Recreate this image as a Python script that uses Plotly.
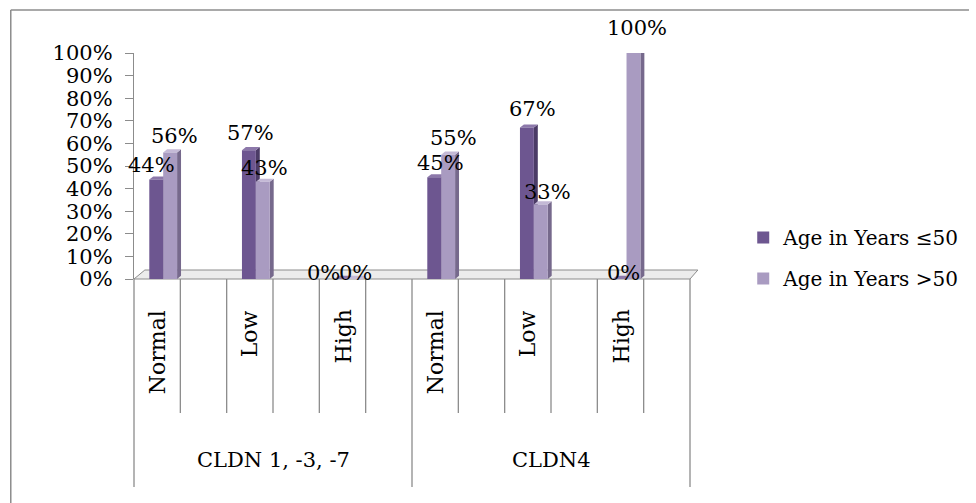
import plotly.graph_objects as go

# ---- data -------------------------------------------------------------
levels = ["Normal", "Low", "High", "Normal", "Low", "High"]
groups = ["CLDN 1, -3, -7", "CLDN4"]
series_names = ["Age in Years \u226450", "Age in Years >50"]
age_le_50 = [44, 57, 0, 45, 67, 0]
age_gt_50 = [56, 43, 0, 55, 33, 100]
y_ticks = [0, 10, 20, 30, 40, 50, 60, 70, 80, 90, 100]

# ---- styling ----------------------------------------------------------
FONT = "DejaVu Serif"
DARK = "#6d5690"
LIGHT = "#a99bc1"
DARK_SIDE = "#4b3b66"
LIGHT_SIDE = "#76698c"
DARK_TOP = "#8c78aa"
LIGHT_TOP = "#c4b9d6"
GRID = "#8c8c8c"

# horizontal nudges (px) of the value labels, per level
label_dx_dark = [-5, 2, -18, 6, 6, 4]
label_dx_light = [4, 2, 0, 5, 7, 4]

W, H = 976, 503
L, R, T, B = 134, 698, 53, 279          # plot area in pixels
n_slots = 2 * len(levels)               # every level is followed by an empty slot
x_pos = [2 * i for i in range(len(levels))]
shift = 0.13                            # bars sit slightly right of the slot centre
bar_w = 0.3


def px(xp):
    return (xp - L) / (R - L)


def py(yp):
    return (B - yp) / (B - T)


fig = go.Figure()
for name, vals, col in [(series_names[0], age_le_50, DARK),
                        (series_names[1], age_gt_50, LIGHT)]:
    fig.add_trace(go.Bar(
        x=x_pos, y=vals, name=name, marker=dict(color=col, line=dict(width=0)),
        legendgroup=name, hoverinfo="skip",
    ))

shapes = []
# floor slab
shapes.append(dict(type="path", xref="paper", yref="paper", layer="below",
                   path=f"M {px(L)},{py(B)} L {px(L+11)},{py(B-9)} L {px(R+8)},{py(B-9)} "
                        f"L {px(R)},{py(B)} Z",
                   fillcolor="#ececec", line=dict(color=GRID, width=1)))

# pseudo-3D side and top faces of every bar
dx, dy = 0.085, 1.4
for vals, off, side, top in [(age_le_50, -bar_w, DARK_SIDE, DARK_TOP),
                             (age_gt_50, 0.0, LIGHT_SIDE, LIGHT_TOP)]:
    for xc, v in zip(x_pos, vals):
        xl = xc + off
        xr = xl + bar_w
        shapes.append(dict(type="path", xref="x", yref="y", layer="below",
                           path=f"M {xr},{0} L {xr+dx},{dy} L {xr+dx},{v+dy} L {xr},{v} Z",
                           fillcolor=side, line=dict(width=0)))
        shapes.append(dict(type="path", xref="x", yref="y", layer="below",
                           path=f"M {xl},{v} L {xl+dx},{v+dy} L {xr+dx},{v+dy} L {xr},{v} Z",
                           fillcolor=top, line=dict(width=0)))

# category table below the axis
tier_end, table_end = 413, 487
for k in range(n_slots + 1):
    bottom = table_end if k % 6 == 0 else tier_end
    xk = k / n_slots
    shapes.append(dict(type="line", xref="paper", yref="paper",
                       x0=xk, x1=xk, y0=py(B), y1=py(bottom),
                       line=dict(color=GRID, width=1.3)))

# outer frame (left and top edges)
shapes.append(dict(type="line", xref="paper", yref="paper",
                   x0=px(9), x1=px(9), y0=py(10), y1=py(H + 5),
                   line=dict(color=GRID, width=1.5)))
shapes.append(dict(type="line", xref="paper", yref="paper",
                   x0=px(9), x1=px(W + 5), y0=py(10), y1=py(10),
                   line=dict(color=GRID, width=1.5)))

annotations = []
# level labels (rotated) and group labels
for i, lab in enumerate(levels):
    annotations.append(dict(xref="paper", yref="paper",
                            x=(2 * i + 0.5) / n_slots, y=py(308),
                            text=lab, textangle=-90, showarrow=False,
                            xanchor="center", yanchor="top",
                            font=dict(family=FONT, size=22, color="black")))
for g, lab in enumerate(groups):
    annotations.append(dict(xref="paper", yref="paper",
                            x=(6 * g + 3) / n_slots, y=py(460),
                            text=lab, showarrow=False,
                            xanchor="center", yanchor="middle",
                            font=dict(family=FONT, size=21, color="black")))

# value labels above the bars (the lift grows with the bar's height)
for vals, off, dxs in [(age_le_50, -bar_w / 2, label_dx_dark),
                       (age_gt_50, bar_w / 2, label_dx_light)]:
    for xc, v, xs in zip(x_pos, vals, dxs):
        annotations.append(dict(xref="x", yref="y", x=xc + off, y=v,
                                text=f"{v}%", showarrow=False,
                                xshift=xs, yshift=6 + 0.19 * v,
                                xanchor="center", yanchor="middle",
                                font=dict(family=FONT, size=21, color="black")))

fig.update_layout(
    width=W, height=H,
    margin=dict(l=L, r=W - R, t=T, b=H - B, pad=0),
    paper_bgcolor="white", plot_bgcolor="rgba(0,0,0,0)",
    barmode="group", bargap=1 - 2 * bar_w / 2, bargroupgap=0,
    font=dict(family=FONT, size=20, color="black"),
    xaxis=dict(range=[-0.5 - shift, n_slots - 0.5 - shift], showticklabels=False,
               showgrid=False, zeroline=False, showline=False, ticks=""),
    yaxis=dict(range=[0, 100], tickvals=y_ticks,
               ticktext=[f"{t}%" for t in y_ticks],
               showgrid=False, zeroline=False, showline=True, linecolor=GRID,
               linewidth=1.3, ticks="outside", ticklen=8, tickcolor=GRID,
               tickwidth=1.3, ticklabelstandoff=8,
               tickfont=dict(family=FONT, size=21, color="black")),
    legend=dict(x=px(752), y=py(218), xanchor="left", yanchor="top",
                traceorder="grouped", tracegroupgap=12,
                font=dict(family=FONT, size=20, color="black"),
                bgcolor="rgba(0,0,0,0)"),
    shapes=shapes, annotations=annotations,
)

fig.write_html("out.html")
